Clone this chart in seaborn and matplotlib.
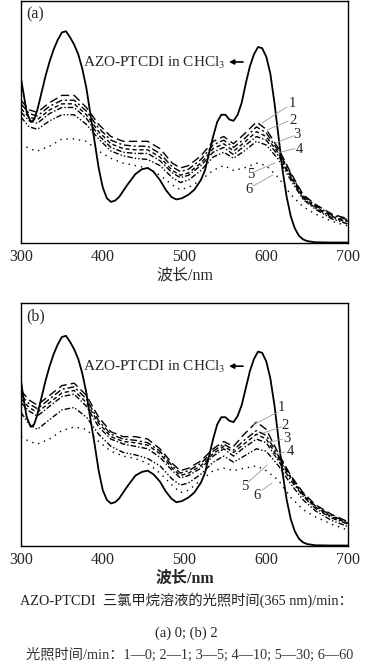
import matplotlib
matplotlib.use("Agg")
import matplotlib.pyplot as plt
import seaborn as sns

sns.set_style("white")
plt.rcParams['font.family'] = ['Liberation Serif', 'Noto Sans CJK SC']
plt.rcParams['mathtext.fontset'] = 'stix'

# ---------------- data ----------------
wl_solid = [300, 303, 307, 312, 316, 320, 325, 330, 335, 340, 345, 350, 355, 360, 365, 370, 375, 380,
            385, 390, 395, 400, 405, 410, 415, 420, 430, 440, 448, 455, 462, 470, 477, 484, 490, 497,
            505, 512, 520, 525, 530, 535, 540, 545, 550, 555, 560, 565, 570, 575, 580, 585, 590, 595,
            600, 605, 610, 615, 620, 625, 630, 635, 640, 645, 650, 660, 680, 700]
solid_a = [0.68, 0.62, 0.54, 0.50, 0.51, 0.55, 0.62, 0.69, 0.75, 0.80, 0.84, 0.87, 0.875, 0.85, 0.82,
           0.78, 0.72, 0.64, 0.53, 0.42, 0.31, 0.23, 0.185, 0.17, 0.175, 0.19, 0.24, 0.285, 0.305, 0.31,
           0.295, 0.26, 0.22, 0.19, 0.18, 0.185, 0.20, 0.22, 0.26, 0.30, 0.37, 0.44, 0.50, 0.53, 0.53,
           0.51, 0.505, 0.53, 0.58, 0.66, 0.73, 0.78, 0.81, 0.805, 0.77, 0.70, 0.58, 0.44, 0.30, 0.19,
           0.11, 0.06, 0.03, 0.015, 0.008, 0.003, 0.002, 0.002]
solid_b = [0.68, 0.61, 0.53, 0.49, 0.50, 0.54, 0.61, 0.68, 0.74, 0.79, 0.83, 0.86, 0.865, 0.84, 0.81,
           0.77, 0.71, 0.63, 0.52, 0.42, 0.31, 0.23, 0.19, 0.175, 0.18, 0.195, 0.245, 0.29, 0.305, 0.31,
           0.295, 0.265, 0.225, 0.195, 0.18, 0.185, 0.20, 0.22, 0.26, 0.30, 0.37, 0.44, 0.50, 0.53, 0.53,
           0.515, 0.51, 0.535, 0.58, 0.65, 0.72, 0.77, 0.80, 0.795, 0.76, 0.69, 0.58, 0.44, 0.30, 0.19,
           0.11, 0.06, 0.03, 0.015, 0.008, 0.003, 0.002, 0.002]

wl = [300, 310, 320, 335, 350, 365, 380, 395, 410, 425, 440, 455, 470, 485, 495, 505, 520, 535, 548,
      560, 573, 588, 600, 615, 630, 645, 660, 680, 700]

a1 = [0.59, 0.55, 0.54, 0.58, 0.61, 0.61, 0.56, 0.49, 0.44, 0.42, 0.42, 0.42, 0.39, 0.33, 0.31, 0.32, 0.36,
      0.42, 0.44, 0.41, 0.45, 0.50, 0.47, 0.39, 0.29, 0.20, 0.16, 0.12, 0.10]
a2 = [0.575, 0.535, 0.525, 0.565, 0.59, 0.59, 0.545, 0.475, 0.425, 0.405, 0.40, 0.40, 0.37, 0.315, 0.295,
      0.305, 0.345, 0.405, 0.425, 0.395, 0.43, 0.48, 0.455, 0.38, 0.285, 0.195, 0.155, 0.115, 0.096]
a3 = [0.555, 0.52, 0.51, 0.55, 0.575, 0.575, 0.53, 0.46, 0.41, 0.39, 0.385, 0.385, 0.355, 0.30, 0.28, 0.29,
      0.33, 0.39, 0.41, 0.38, 0.415, 0.46, 0.44, 0.37, 0.275, 0.19, 0.15, 0.11, 0.09]
a4 = [0.54, 0.505, 0.495, 0.535, 0.56, 0.56, 0.515, 0.445, 0.395, 0.375, 0.37, 0.37, 0.34, 0.29, 0.27, 0.28,
      0.32, 0.375, 0.395, 0.365, 0.40, 0.44, 0.425, 0.36, 0.27, 0.185, 0.145, 0.105, 0.085]
a5 = [0.52, 0.48, 0.47, 0.505, 0.53, 0.53, 0.49, 0.43, 0.38, 0.36, 0.35, 0.345, 0.32, 0.27, 0.25, 0.26,
      0.30, 0.355, 0.375, 0.35, 0.38, 0.42, 0.405, 0.345, 0.26, 0.18, 0.14, 0.10, 0.078]
a6 = [0.41, 0.39, 0.38, 0.40, 0.43, 0.43, 0.42, 0.38, 0.35, 0.33, 0.32, 0.31, 0.28, 0.24, 0.22, 0.23, 0.26,
      0.30, 0.32, 0.30, 0.31, 0.33, 0.32, 0.27, 0.20, 0.15, 0.12, 0.09, 0.07]

b1 = [0.64, 0.60, 0.58, 0.62, 0.66, 0.67, 0.62, 0.53, 0.47, 0.45, 0.45, 0.44, 0.40, 0.34, 0.31, 0.32, 0.35,
      0.40, 0.43, 0.41, 0.46, 0.51, 0.48, 0.38, 0.29, 0.22, 0.17, 0.13, 0.10]
b2 = [0.62, 0.585, 0.565, 0.605, 0.645, 0.655, 0.605, 0.515, 0.46, 0.44, 0.435, 0.425, 0.39, 0.33, 0.30,
      0.31, 0.34, 0.39, 0.42, 0.395, 0.435, 0.475, 0.455, 0.37, 0.285, 0.215, 0.165, 0.125, 0.097]
b3 = [0.605, 0.57, 0.55, 0.59, 0.63, 0.64, 0.59, 0.505, 0.45, 0.43, 0.425, 0.415, 0.38, 0.32, 0.29, 0.30,
      0.33, 0.38, 0.41, 0.385, 0.42, 0.46, 0.44, 0.36, 0.28, 0.21, 0.16, 0.12, 0.094]
b4 = [0.59, 0.555, 0.535, 0.575, 0.615, 0.625, 0.575, 0.49, 0.44, 0.42, 0.41, 0.40, 0.365, 0.31, 0.28, 0.29,
      0.32, 0.37, 0.40, 0.37, 0.405, 0.44, 0.425, 0.35, 0.27, 0.205, 0.155, 0.115, 0.09]
b5 = [0.55, 0.50, 0.48, 0.52, 0.56, 0.57, 0.53, 0.46, 0.41, 0.385, 0.375, 0.36, 0.33, 0.275, 0.25, 0.26,
      0.295, 0.345, 0.37, 0.345, 0.37, 0.40, 0.39, 0.33, 0.255, 0.19, 0.145, 0.105, 0.08]
b6 = [0.45, 0.43, 0.42, 0.44, 0.475, 0.49, 0.48, 0.43, 0.39, 0.37, 0.36, 0.34, 0.30, 0.25, 0.22, 0.23, 0.27,
      0.31, 0.32, 0.31, 0.32, 0.33, 0.31, 0.27, 0.20, 0.15, 0.12, 0.09, 0.065]

curve_labels = ["1", "2", "3", "4", "5", "6"]
xticks = [300, 400, 500, 600, 700]
xlabel = "波长/nm"
solid_label = r"AZO-PTCDI in CHCl$_3$"
panel_labels = ["(a)", "(b)"]
caption1 = "AZO-PTCDI  三氯甲烷溶液的光照时间(365 nm)/min："
caption2 = "(a) 0; (b) 2"
caption3 = "光照时间/min：1—0; 2—1; 3—5; 4—10; 5—30; 6—60"

# label positions: (text x, text y, line x0, y0, x1, y1)
label_pos_a = [(632, 0.575, 595, 0.496, 625, 0.562),
               (633, 0.508, 601, 0.467, 627, 0.504),
               (638, 0.448, 611, 0.413, 633, 0.442),
               (641, 0.388, 613, 0.372, 635, 0.390),
               (581, 0.283, 584, 0.293, 611, 0.331),
               (579, 0.222, 584, 0.236, 608, 0.281)]
label_pos_b = [(619, 0.570, 584, 0.498, 614, 0.551),
               (623, 0.496, 596, 0.465, 619, 0.490),
               (625, 0.444, 601, 0.424, 620, 0.440),
               (629, 0.389, 608, 0.374, 623, 0.387),
               (574, 0.243, 578, 0.263, 601, 0.333),
               (589, 0.207, 595, 0.230, 607, 0.259)]

styles = [(0, (6, 3)), (0, (5, 2, 1.5, 2)), (0, (3, 2)), (0, (4, 1.5, 1, 1.5)),
          (0, (4, 1.5, 1, 1.5, 1, 1.5)), (0, (1, 3.5))]

W, H = 369, 667
fig = plt.figure(figsize=(W / 100, H / 100), dpi=100)
ax_a = fig.add_axes([21 / W, (H - 243) / H, 327 / W, 242 / H])
ax_b = fig.add_axes([21 / W, (H - 546) / H, 327 / W, 243 / H])


def draw(ax, solid, curves, label_pos, plabel, text_y, bold_label):
    sns.lineplot(x=wl_solid, y=solid, ax=ax, color="black", linewidth=1.3)
    for c, ls in zip(curves, styles):
        sns.lineplot(x=wl, y=c, ax=ax, color="black", linewidth=1.0, linestyle=ls)
    ax.set_xlim(300, 700)
    ax.set_ylim(0, 1)
    ax.set_xticks(xticks)
    ax.set_yticks([])
    ax.tick_params(axis="x", direction="in", length=3, labelsize=11.5, pad=4)
    for s in ax.spines.values():
        s.set_linewidth(1.0)
        s.set_color("black")
    ax.set_xlabel(xlabel, fontsize=11.5, labelpad=2,
                  fontweight="bold" if bold_label else "normal")
    ax.text(0.015, 0.945, plabel, transform=ax.transAxes, fontsize=11.5, va="center", ha="left")
    ax.text(550, text_y, solid_label, fontsize=11, ha="right", va="center")
    ax.annotate("", xy=(551, text_y + 0.003), xytext=(575, text_y + 0.003),
                arrowprops=dict(arrowstyle="-|>", color="black", lw=1.2, mutation_scale=7))
    for lab, (tx, ty, x0, y0, x1, y1) in zip(curve_labels, label_pos):
        ax.plot([x0, x1], [y0, y1], color="#999999", linewidth=0.6)
        ax.text(tx, ty, lab, fontsize=10.5, ha="center", va="center")


draw(ax_a, solid_a, [a1, a2, a3, a4, a5, a6], label_pos_a, panel_labels[0], 0.745, False)
draw(ax_b, solid_b, [b1, b2, b3, b4, b5, b6], label_pos_b, panel_labels[1], 0.737, True)

fig.text(186 / W, 1 - 600 / H, caption1, fontsize=10.3, ha="center", va="center", color="#222222")
fig.text(186 / W, 1 - 633 / H, caption2, fontsize=10.5, ha="center", va="center", color="#222222")
fig.text(190 / W, 1 - 655 / H, caption3, fontsize=10.3, ha="center", va="center", color="#333333")

fig.savefig("out.png", dpi=100)
